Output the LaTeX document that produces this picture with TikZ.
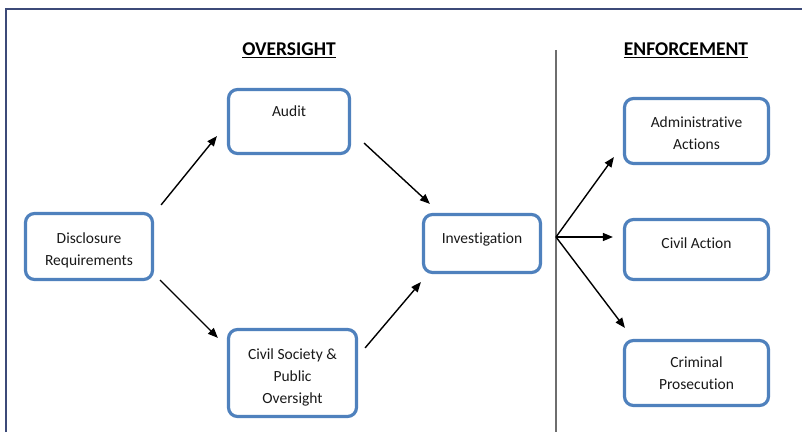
\documentclass[tikz,border=0pt]{standalone}
\usepackage{fontspec}
\setmainfont{Carlito}[Ligatures=NoCommon]
\usetikzlibrary{arrows.meta}
\definecolor{boxblue}{HTML}{4F81BD}
\definecolor{framecol}{HTML}{3C4A78}
\definecolor{divcol}{HTML}{6E6E6E}
\tikzset{
  box/.style={draw=boxblue, line width=3.2pt, rounded corners=9pt, fill=white, inner sep=0pt},
  lbl/.style={anchor=north, align=center, inner sep=0pt, font=\fontsize{15.5}{22}\selectfont, text=black!90},
  head/.style={inner sep=0pt, font=\fontsize{19.5}{22}\bfseries\selectfont},
  arr/.style={-{Triangle[length=10pt,width=8pt]}, line width=1.4pt, black},
}
\begin{document}
\begin{tikzpicture}[x=1pt,y=1pt]
\useasboundingbox (0,0) rectangle (802,432);
% frame
\coordinate (ftl) at (6,423);
\coordinate (ftr) at (802,423);
\coordinate (fbl) at (6,0);
\draw[framecol, line width=1.3pt] (fbl) -- (ftl) -- (ftr);
% headings
\node[head] (hover) at (289,382) {\underline{OVERSIGHT}};
\node[head] (henf) at (686,382) {\underline{ENFORCEMENT}};
% divider
\coordinate (dtop) at (556,382);
\coordinate (dbot) at (556,0);
\draw[divcol, line width=1.5pt] (dtop) -- (dbot);
% boxes
\node[box, minimum width=121pt, minimum height=64pt] (audit) at (289,310.5) {};
\node[box, minimum width=127pt, minimum height=66pt] (disc) at (89,185.5) {};
\node[box, minimum width=128pt, minimum height=87pt] (civil) at (292.5,59) {};
\node[box, minimum width=117pt, minimum height=58pt] (inv) at (482,188.5) {};
\node[box, minimum width=144pt, minimum height=65pt] (admin) at (696.5,301) {};
\node[box, minimum width=144pt, minimum height=60pt] (civact) at (696.5,182.5) {};
\node[box, minimum width=144pt, minimum height=65pt] (crim) at (696.5,59) {};
% labels
\node[lbl] (tAudit) at ([yshift=-18pt]audit.north) {Audit};
\node[lbl] (tDisc) at ([yshift=-21pt]disc.north) {Disclosure\\Requirements};
\node[lbl] (tCivil) at ([yshift=-20.5pt]civil.north) {Civil Society \&\\Public\\Oversight};
\node[lbl] (tInv) at ([yshift=-20pt]inv.north) {Investigation};
\node[lbl] (tAdmin) at ([yshift=-19.5pt]admin.north) {Administrative\\Actions};
\node[lbl] (tCivAct) at ([yshift=-20pt]civact.north) {Civil Action};
\node[lbl] (tCrim) at ([yshift=-17.5pt]crim.north) {Criminal\\Prosecution};
% arrows
\draw[arr] ([shift={(7pt,7pt)}]disc.north east) -- ([shift={(-10pt,19pt)}]audit.south west);
\draw[arr] ([shift={(6pt,1pt)}]disc.south east) -- ([shift={(-9pt,-10pt)}]civil.north west);
\draw[arr] ([shift={(13pt,12pt)}]audit.south east) -- ([shift={(8pt,9pt)}]inv.north west);
\draw[arr] ([shift={(7pt,-20pt)}]civil.north east) -- ([shift={(-1pt,-8pt)}]inv.south west);
\coordinate (split) at (556,195);
\draw[arr] (split) -- ([shift={(-9pt,8pt)}]admin.south west);
\draw[arr] (split) -- ([xshift=-10pt]civact.west |- split);
\draw[arr] (split) -- ([shift={(2pt,11pt)}]crim.north west);
\end{tikzpicture}
\end{document}
